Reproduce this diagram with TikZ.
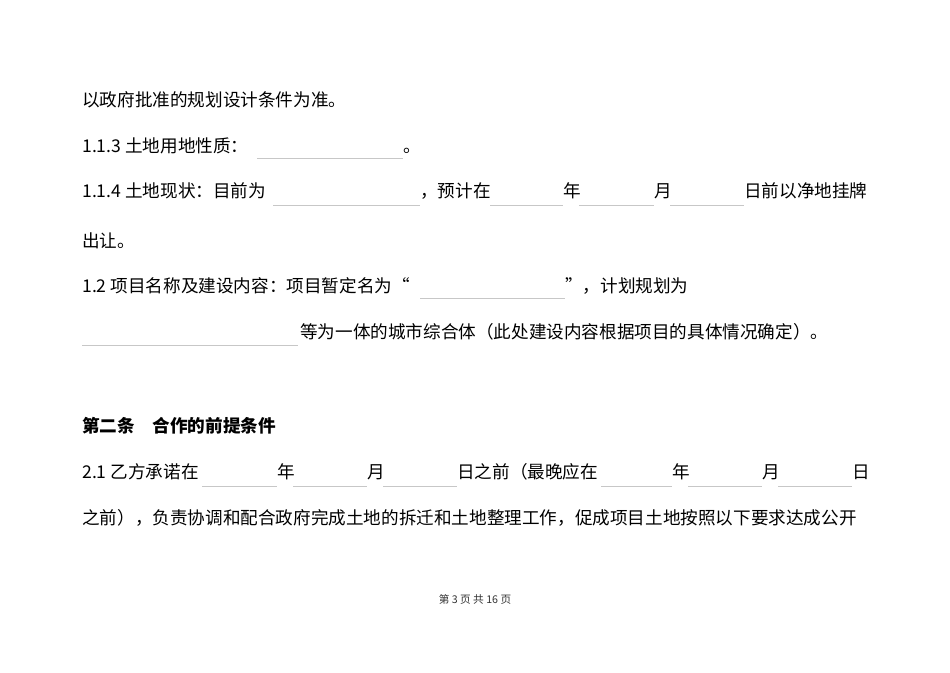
\documentclass[tikz,border=0pt]{standalone}
\usepackage{fontspec}
\setmainfont{Noto Sans CJK SC}
\newfontfamily\cjkfont{Noto Sans CJK SC}
\begin{document}
\begin{tikzpicture}[x=0.75pt,y=-0.75pt,
  txt/.style={anchor=base west,inner sep=0pt,font=\fontsize{13.2}{15}\selectfont},
  ul/.style={draw=black!22,line width=0.5pt}]
\useasboundingbox (0,0) rectangle (950,672);
\fill[white] (0,0) rectangle (950,672);
% line 1
\node[txt] (l1) at (82,106) {以政府批准的规划设计条件为准。};
% line 2
\node[txt] (l2a) at (82,152) {1.1.3 土地用地性质：};
\draw[ul] (257,158) -- (403,158);
\node[txt] (l2b) at (403,152) {。};
% line 3
\node[txt] (l3a) at (82,197) {1.1.4 土地现状：目前为};
\draw[ul] (273,205) -- (420,205);
\node[txt] (l3b) at (420,197) {，预计在};
\draw[ul] (490,205) -- (563,205);
\node[txt] (l3c) at (563,197) {年};
\draw[ul] (579,205) -- (654,205);
\node[txt] (l3d) at (654,197) {月};
\draw[ul] (670,205) -- (744,205);
\node[txt] (l3e) at (744,197) {日前以净地挂牌};
% line 4
\node[txt] (l4) at (82,247) {出让。};
% line 5
\node[txt] (l5a) at (82,292) {1.2 项目名称及建设内容：项目暂定名为“};
\draw[ul] (420,298) -- (565,298);
\node[txt] (l5b) at (565,292) {”，计划规划为};
% line 6
\draw[ul] (82,345) -- (298,345);
\node[txt] (l6) at (300,338) {等为一体的城市综合体（此处建设内容根据项目的具体情况确定）。};
% heading
\node[txt,font=\fontsize{13.2}{15}\selectfont\bfseries] (h) at (82,432) {第二条\hspace{1em}合作的前提条件};
% line 7
\node[txt] (l7a) at (82,478) {2.1 乙方承诺在};
\draw[ul] (202,486) -- (277,486);
\node[txt] (l7b) at (277,478) {年};
\draw[ul] (293,486) -- (367,486);
\node[txt] (l7c) at (367,478) {月};
\draw[ul] (383,486) -- (457,486);
\node[txt] (l7d) at (457,478) {日之前（最晚应在};
\draw[ul] (601,486) -- (672,486);
\node[txt] (l7e) at (672,478) {年};
\draw[ul] (688,486) -- (762,486);
\node[txt] (l7f) at (762,478) {月};
\draw[ul] (778,486) -- (852,486);
\node[txt] (l7g) at (852,478) {日};
% line 8
\node[txt] (l8) at (82,524) {之前），负责协调和配合政府完成土地的拆迁和土地整理工作，促成项目土地按照以下要求达成公开};
% footer
\node[inner sep=0pt,font=\fontsize{8}{10}\selectfont,text=black!80] (f) at (475,599) {第 3 页 共 16 页};
\end{tikzpicture}
\end{document}
